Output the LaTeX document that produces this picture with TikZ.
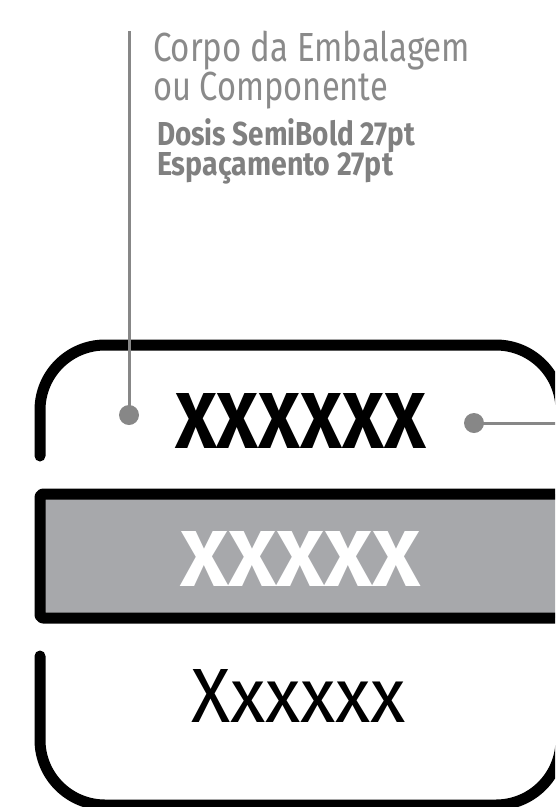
\documentclass[tikz,border=0pt]{standalone}
\usepackage{fontspec}
\usepackage{graphicx}
\setmainfont{Fira Sans}
\definecolor{lblgray}{HTML}{8A8A8A}
\definecolor{lblbold}{HTML}{808080}
\definecolor{linegray}{HTML}{878787}
\definecolor{barfill}{HTML}{A7A8AB}
\newcommand\fitto[3]{%
  \setbox0=\hbox{#3}\setbox2=\hbox{X}%
  \pgfmathsetmacro\fitsx{#1/\the\wd0}%
  \pgfmathsetmacro\fitsy{#2/\the\ht2}%
  \scalebox{\fitsx}[\fitsy]{\box0}}
\tikzset{
  frame/.style={line width=11pt, line cap=round, line join=round, black},
  leader/.style={line width=3pt, linegray},
  dot/.style={circle, fill=linegray, minimum size=20pt, inner sep=0pt},
  txt/.style={inner sep=0pt, outer sep=0pt},
}
\begin{document}
\begin{tikzpicture}[x=1pt,y=-1pt]
\useasboundingbox (0,0) rectangle (555,807);
\clip (0,0) rectangle (555,807);
% top rounded frame
\draw[frame] (40,456) -- (40,410) arc[start angle=180, end angle=270, radius=65] -- (496,345) arc[start angle=270, end angle=360, radius=65] -- (561,456);
% grey bar
\draw[frame, fill=barfill, rounded corners=3pt] (40,494) rectangle (570,618);
% bottom rounded frame
\draw[frame] (40,656) -- (40,740) arc[start angle=180, end angle=90, radius=65] -- (496,805) arc[start angle=90, end angle=0, radius=65] -- (561,656);
% texts
\node[txt, anchor=base, font=\bfseries] (t1) at (300.5,448) {\fitto{251}{55}{XXXXXX}};
\node[txt, anchor=base, font=\bfseries, text=white] (t2) at (300.5,586) {\fitto{241}{55}{XXXXX}};
\node[txt, anchor=base] (t3) at (298.5,722) {\fitto{215}{53}{Xxxxxx}};
% label
\node[txt, anchor=base west, text=lblgray] (l1) at (153,61) {\fitto{317}{28}{Corpo da Embalagem}};
\node[txt, anchor=base west, text=lblgray] (l2) at (153,100) {\fitto{235}{28}{ou Componente}};
\node[txt, anchor=base west, text=lblbold, font=\bfseries] (l3) at (157,145) {\fitto{258}{23}{Dosis SemiBold 27pt}};
\node[txt, anchor=base west, text=lblbold, font=\bfseries] (l4) at (157,175) {\fitto{236}{23}{Espaçamento 27pt}};
% leaders
\coordinate (lTop) at (129,31);
\node[dot] (dotL) at (129,415) {};
\draw[leader] (lTop) -- (dotL.center);
\node[dot] (dotR) at (474,423) {};
\coordinate (rEnd) at (560,423);
\draw[leader] (dotR.center) -- (rEnd);
\end{tikzpicture}
\end{document}
